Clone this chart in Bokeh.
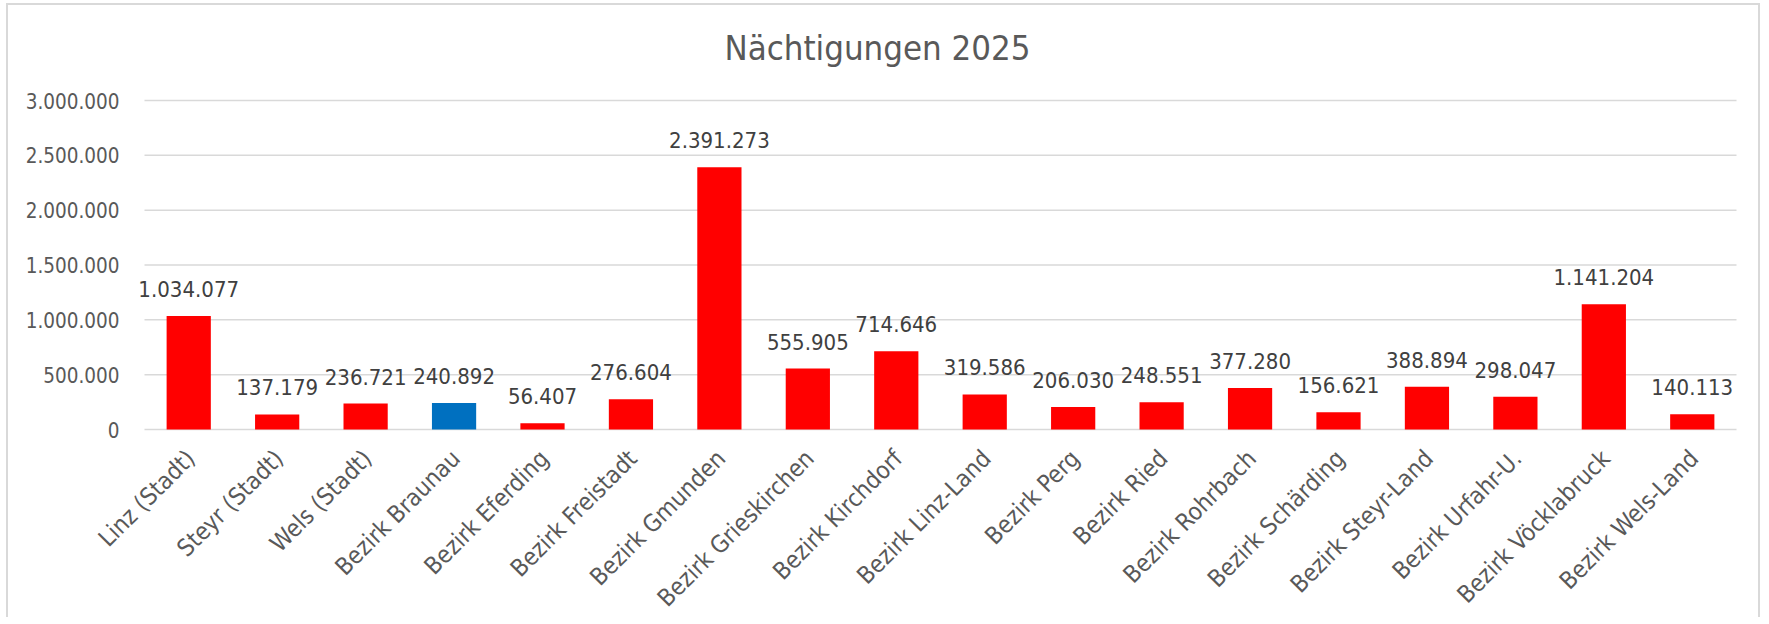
import math
from bokeh.plotting import figure
from bokeh.models import ColumnDataSource, Label, Range1d
from bokeh.core.properties import value
from bokeh.embed import file_html
from bokeh.resources import INLINE

title_text = "Nächtigungen 2025"
categories = ["Linz (Stadt)", "Steyr (Stadt)", "Wels (Stadt)", "Bezirk Braunau",
              "Bezirk Eferding", "Bezirk Freistadt", "Bezirk Gmunden", "Bezirk Grieskirchen",
              "Bezirk Kirchdorf", "Bezirk Linz-Land", "Bezirk Perg", "Bezirk Ried",
              "Bezirk Rohrbach", "Bezirk Schärding", "Bezirk Steyr-Land", "Bezirk Urfahr-U.",
              "Bezirk Vöcklabruck", "Bezirk Wels-Land"]
values = [1034077, 137179, 236721, 240892, 56407, 276604, 2391273, 555905, 714646,
          319586, 206030, 248551, 377280, 156621, 388894, 298047, 1141204, 140113]
highlight = "Bezirk Braunau"
y_ticks = [0, 500000, 1000000, 1500000, 2000000, 2500000, 3000000]
y_tick_labels = ["0", "500.000", "1.000.000", "1.500.000", "2.000.000", "2.500.000", "3.000.000"]

FONT = "DejaVu Sans Condensed"
TXT = "#595959"
DARK = "#404040"
GRID = "#D9D9D9"

# layout (canvas pixels)
W, H = 1754, 614
FL, FR = 136, 1728          # plot-area left / right
Y0, YTOP = 424, 95          # pixel rows of 0 and of the top tick
n = len(categories)
ppc = (FR - FL) / n                     # pixels per category
x_lo = -FL / ppc
x_hi = n + (W - FR) / ppc
upp = y_ticks[-1] / (Y0 - YTOP)         # data units per pixel
y_lo = -(H - Y0) * upp
y_hi = Y0 * upp

xpos = [i + 0.5 for i in range(n)]
labels = [f"{v:,}".replace(",", ".") for v in values]
colors = ["#0070C0" if c == highlight else "#FF0000" for c in categories]
src = ColumnDataSource(dict(x=xpos, cat=categories, val=values, lab=labels, col=colors,
                            zero=[0] * n))
ysrc = ColumnDataSource(dict(x0=[0] * len(y_ticks), x1=[n] * len(y_ticks), y=y_ticks,
                             lab=y_tick_labels))

p = figure(width=W, height=H, x_range=Range1d(x_lo, x_hi), y_range=Range1d(y_lo, y_hi),
           output_backend="svg", toolbar_location=None,
           min_border_left=0, min_border_right=0, min_border_top=0, min_border_bottom=0)
p.styles = {"border-left": "2px solid #D9D9D9", "border-top": "2px solid #D9D9D9",
            "border-right": "2px solid #D9D9D9", "margin-left": "6px", "margin-top": "3px"}
p.outline_line_color = None
p.background_fill_color = "white"
p.border_fill_color = "white"
p.xaxis.visible = False
p.yaxis.visible = False
p.grid.visible = False

# gridlines and value axis labels
p.segment(x0="x0", x1="x1", y0="y", y1="y", source=ysrc, line_color=GRID, line_width=1.5)
p.text(x="x0", y="y", text="lab", source=ysrc, x_offset=-25, text_align="right",
       text_baseline="middle", text_font=value(FONT), text_font_size="20.5px", text_color=TXT)

# bars and value labels
p.vbar(x="x", top="val", width=0.5, source=src, fill_color="col", line_color=None)
p.text(x="x", y="val", text="lab", source=src, y_offset=-27, text_align="center",
       text_baseline="alphabetic", text_font=value(FONT), text_font_size="22px",
       text_color=DARK)
# category labels, rotated
p.text(x="x", y="zero", text="cat", source=src, angle=math.pi / 4, x_offset=2, y_offset=25,
       text_align="right", text_baseline="middle", text_font=value(FONT),
       text_font_size="24px", text_color=TXT)

p.add_layout(Label(x=869, y=H - 42, x_units="screen", y_units="screen", text=title_text,
                   text_align="center", text_baseline="alphabetic", text_font=FONT,
                   text_font_size="34.5px", text_color=TXT))

open("out.html", "w").write(file_html(p, INLINE))
